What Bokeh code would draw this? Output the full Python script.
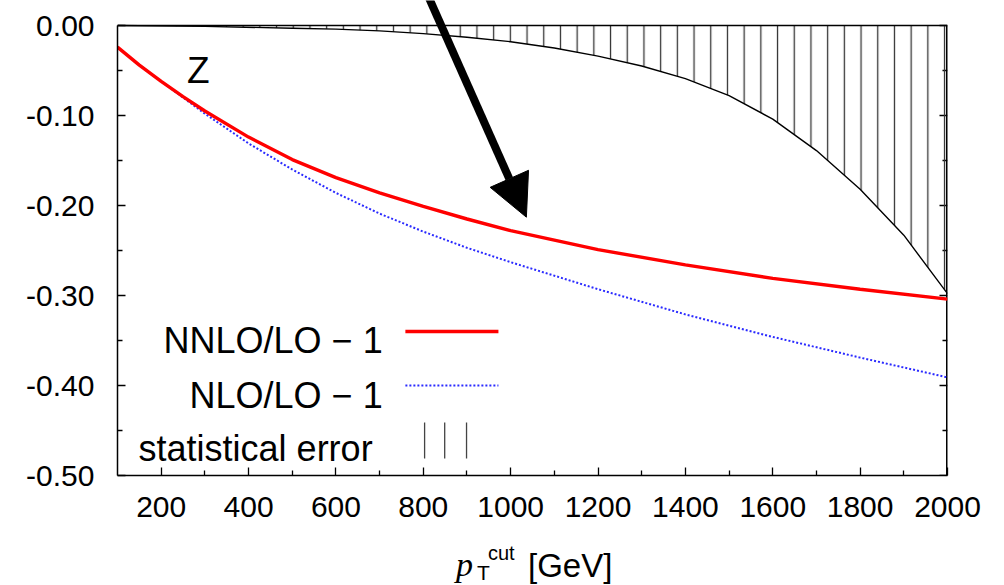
from bokeh.plotting import figure
from bokeh.models import (FixedTicker, CustomJSTickFormatter, Label, Arrow,
                          NormalHead, Range1d, Span, Div)
from bokeh.layouts import column
from bokeh.embed import file_html
from bokeh.resources import INLINE

# ---------------- data ----------------
pt_cut = [100, 150, 200, 250, 300, 400, 500, 600, 700, 800, 900, 1000,
          1200, 1400, 1600, 1800, 2000]
nnlo_over_lo = [-0.024, -0.044, -0.062, -0.079, -0.095, -0.124, -0.149, -0.169,
                -0.186, -0.201, -0.215, -0.228, -0.249, -0.266, -0.281, -0.293, -0.304]
nlo_over_lo = [-0.024, -0.044, -0.062, -0.080, -0.098, -0.131, -0.160, -0.186,
               -0.209, -0.229, -0.247, -0.263, -0.293, -0.321, -0.346, -0.369, -0.391]

stat_pt = [100, 300, 500, 600, 700, 800, 900, 1000, 1100, 1200, 1300, 1400,
           1500, 1600, 1700, 1800, 1900, 2000]
stat_err = [0.0, -0.001, -0.003, -0.004, -0.006, -0.009, -0.013, -0.018, -0.025,
            -0.034, -0.045, -0.059, -0.078, -0.104, -0.139, -0.182, -0.233, -0.298]

x_ticks = [200, 400, 600, 800, 1000, 1200, 1400, 1600, 1800, 2000]
x_minor = [300, 500, 700, 900, 1100, 1300, 1500, 1700, 1900]
y_ticks = [0.0, -0.1, -0.2, -0.3, -0.4, -0.5]
y_minor = [-0.05, -0.15, -0.25, -0.35, -0.45]

legend_labels = ["NNLO/LO \u2212 1", "NLO/LO \u2212 1", "statistical error"]
process_label = "Z"

X_MIN, X_MAX = 100, 2000
Y_MIN, Y_MAX = -0.5, 0.0

FONT = "Liberation Sans"
BLACK = "#000000"
RED = "#ff0000"
BLUE = "#2a2aff"

# frame: 117..947 px wide (830 px), 0.00 at 25 px, -0.50 at 475 px
FRAME_W, FRAME_H_DATA = 830, 450
px_per_x = FRAME_W / (X_MAX - X_MIN)
px_per_y = FRAME_H_DATA / (Y_MAX - Y_MIN)
y_top = Y_MAX + 25 / px_per_y          # frame extends to the canvas top

p = figure(width=1004, height=540, output_backend="svg", toolbar_location=None,
           x_range=Range1d(X_MIN, X_MAX), y_range=Range1d(Y_MIN, y_top),
           min_border_left=117, min_border_right=57, min_border_top=0,
           min_border_bottom=65, background_fill_color="white",
           border_fill_color="white", outline_line_color=None)
p.grid.visible = False

xt = FixedTicker(ticks=x_ticks, minor_ticks=x_minor)
yt = FixedTicker(ticks=y_ticks, minor_ticks=y_minor)

for ax in (p.xaxis[0], p.yaxis[0]):
    ax.axis_line_color = BLACK
    ax.axis_line_width = 1.5
    ax.major_tick_in = 8
    ax.major_tick_out = 0
    ax.minor_tick_in = 5
    ax.minor_tick_out = 0
    ax.major_tick_line_color = BLACK
    ax.minor_tick_line_color = BLACK
    ax.major_tick_line_width = 1.3
    ax.minor_tick_line_width = 1.3
    ax.major_label_text_font = FONT
    ax.major_label_text_font_size = "30px"
    ax.major_label_text_color = BLACK
p.xaxis[0].ticker = xt
p.yaxis[0].ticker = yt
p.yaxis[0].bounds = (Y_MIN, Y_MAX)
p.yaxis[0].formatter = CustomJSTickFormatter(code="return tick.toFixed(2);")
p.xaxis[0].major_label_standoff = 21
p.yaxis[0].major_label_standoff = 23

# top border at 0.00 and right border with mirrored ticks
p.add_layout(Span(location=Y_MAX, dimension="width", line_color=BLACK,
                  line_width=1.5))
p.segment(x0=[X_MAX], y0=[Y_MIN], x1=[X_MAX], y1=[Y_MAX], line_color=BLACK,
          line_width=3)
p.segment(x0=[X_MAX] * len(y_ticks), y0=y_ticks,
          x1=[X_MAX - 8 / px_per_x] * len(y_ticks), y1=y_ticks,
          line_color=BLACK, line_width=1.3)
p.segment(x0=[X_MAX] * len(y_minor), y0=y_minor,
          x1=[X_MAX - 5 / px_per_x] * len(y_minor), y1=y_minor,
          line_color=BLACK, line_width=1.3)

# statistical-error band (hatched)
p.varea(x=stat_pt, y1=stat_err, y2=[Y_MAX] * len(stat_pt), fill_color=None,
        fill_alpha=0, hatch_pattern="vertical_line", hatch_scale=16.7,
        hatch_weight=1.3, hatch_color="#333333")
p.line(stat_pt, stat_err, line_color=BLACK, line_width=1.4)

# curves
p.line(pt_cut, nlo_over_lo, line_color=BLUE, line_width=2, line_dash="2 2")
p.line(pt_cut, nnlo_over_lo, line_color=RED, line_width=3.4)

# process label
p.add_layout(Label(x=285, y=-0.05, text=process_label, text_align="center",
                   text_baseline="alphabetic", text_font=FONT,
                   text_font_size="37px", text_color=BLACK))

# arrow (comes in from above the frame)
arrow_start = (812, y_top + 0.004)
arrow_end = (1036, -0.213)
p.add_layout(Arrow(end=NormalHead(size=42, fill_color=BLACK, line_color=BLACK),
                   x_start=arrow_start[0], y_start=arrow_start[1],
                   x_end=arrow_end[0], y_end=arrow_end[1],
                   line_color=BLACK, line_width=8))

# key (text left of sample, gnuplot style)
key_text_right = [707, 707, 684]
key_baseline = [-0.350, -0.411, -0.470]
key_line_y = [-0.340, -0.400]
key_sample = [759, 972]
for txt, xr, yb in zip(legend_labels, key_text_right, key_baseline):
    p.add_layout(Label(x=xr, y=yb, text=txt, text_align="right",
                       text_baseline="alphabetic", text_font=FONT,
                       text_font_size="36px", text_color=BLACK))
p.line(key_sample, [key_line_y[0]] * 2, line_color=RED, line_width=3.4)
p.line(key_sample, [key_line_y[1]] * 2, line_color=BLUE, line_width=2,
       line_dash="2 2")
hatch_key_x = [803, 849, 899]
p.segment(x0=hatch_key_x, y0=[-0.441] * 3, x1=hatch_key_x, y1=[-0.481] * 3,
          line_color="#444444", line_width=1.3)

# x-axis title  p_T^cut [GeV]  (HTML text below the figure)
title_html = (
    '<div style="position:relative;width:1004px;height:45px;color:#000;'
    'white-space:nowrap;line-height:1;">'
    '<span style="position:absolute;left:456px;top:8px;font-family:\'Liberation Serif\';'
    'font-style:italic;font-size:34px;line-height:1;">p</span>'
    '<span style="position:absolute;left:477px;top:22px;font-family:\'Liberation Sans\';'
    'font-size:21px;line-height:1;">T</span>'
    '<span style="position:absolute;left:488px;top:3px;font-family:\'Liberation Sans\';'
    'font-size:20px;line-height:1;">cut</span>'
    '<span style="position:absolute;left:528px;top:9px;font-family:\'Liberation Sans\';'
    'font-size:33px;line-height:1;">[GeV]</span>'
    '</div>'
)
xtitle = Div(text=title_html, width=1004, height=45, margin=0)

layout = column(p, xtitle, spacing=0)
open("out.html", "w").write(file_html(layout, INLINE))
